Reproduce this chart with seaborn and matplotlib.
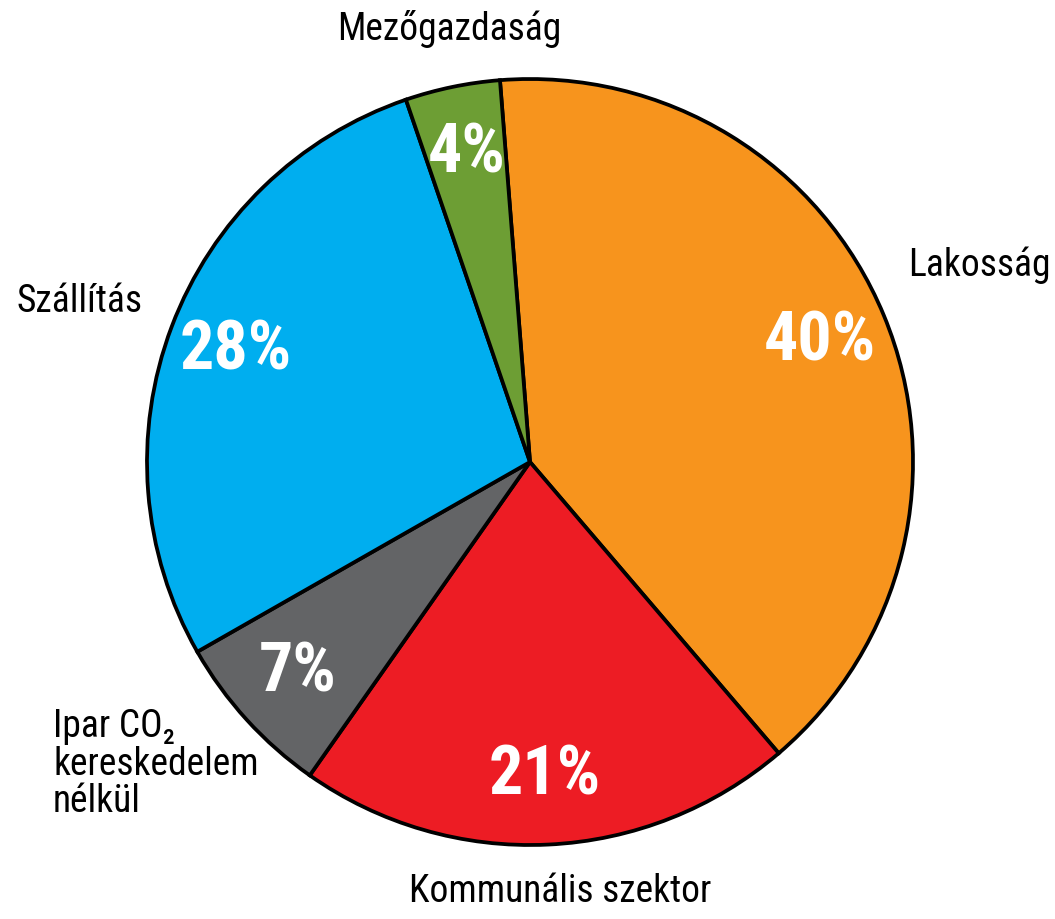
import matplotlib
matplotlib.use("Agg")
import matplotlib.pyplot as plt
import seaborn as sns

# data
sectors = ["Lakosság", "Kommunális szektor", "Ipar CO₂\nkereskedelem\nnélkül", "Szállítás", "Mezőgazdaság"]
shares = [40, 21, 7, 28, 4]
colors = ["#F7941D", "#ED1C24", "#636466", "#00AEEF", "#6D9E34"]

sns.set_style("white")
plt.rcParams["font.family"] = ["Roboto Condensed", "DejaVu Sans"]

fig = plt.figure(figsize=(10.55, 9.19), dpi=100)
ax = fig.add_axes([0, 0, 1, 1])

wedges, texts, autotexts = ax.pie(
    shares,
    colors=colors,
    startangle=94.5,
    counterclock=False,
    center=(530, 457),
    radius=383,
    autopct="%d%%",
    pctdistance=0.82,
    wedgeprops=dict(edgecolor="black", linewidth=2.7),
    textprops=dict(color="white", fontsize=49, fontweight="bold"),
    frame=True,
)
ax.set_xlim(0, 1055)
ax.set_ylim(0, 919)
ax.set_aspect("equal")
ax.axis("off")

# outer labels (layout)
label_pos = {
    "Lakosság": (908, 643, "left", "baseline"),
    "Kommunális szektor": (560, 17, "center", "baseline"),
    "Ipar CO₂\nkereskedelem\nnélkül": (53, 211, "left", "top"),
    "Szállítás": (16, 607, "left", "baseline"),
    "Mezőgazdaság": (449, 879, "center", "baseline"),
}
for name in sectors:
    x, y, ha, va = label_pos[name]
    ax.text(x, y, name, ha=ha, va=va, fontsize=27, color="black", linespacing=1.02,
            fontweight="normal")

fig.savefig("out.png", dpi=100, facecolor="white")
